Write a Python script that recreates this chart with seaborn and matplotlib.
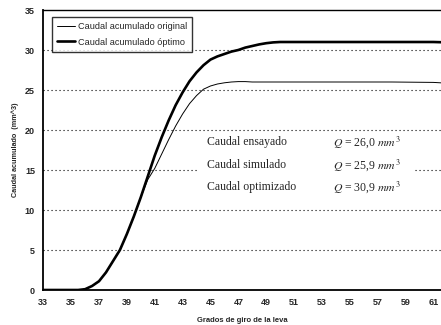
import numpy as np
import pandas as pd
import matplotlib
matplotlib.use("Agg")
import matplotlib.pyplot as plt
import seaborn as sns
from matplotlib.patches import Rectangle
from matplotlib.lines import Line2D

# ---- data ----
grados = [33, 34, 35, 35.5, 36, 36.5, 37, 37.5, 38, 38.5, 39, 39.5, 40, 40.5, 41, 41.5,
          42, 42.5, 43, 43.5, 44, 44.5, 45, 45.5, 46, 46.5, 47, 47.5, 48, 48.5, 49,
          49.5, 50, 52, 55, 58, 61, 62]
caudal_optimo = [0, 0, 0, 0, 0.1, 0.5, 1.1, 2.2, 3.6, 5.0, 7.0, 9.2, 11.6, 14.2, 16.8, 19.1,
                 21.2, 23.1, 24.7, 26.1, 27.2, 28.1, 28.8, 29.2, 29.5, 29.8, 30.0, 30.3, 30.5, 30.7, 30.85,
                 30.95, 31.0, 31.0, 31.0, 31.0, 31.0, 30.95]
caudal_original = [0, 0, 0, 0, 0.1, 0.5, 1.1, 2.2, 3.6, 5.0, 7.0, 9.2, 11.6, 13.8, 15.2, 17.0,
                   18.8, 20.5, 22.0, 23.3, 24.3, 25.1, 25.5, 25.75, 25.9, 26.0, 26.05, 26.05, 26.0, 26.0, 26.0,
                   26.0, 26.0, 26.0, 26.0, 26.0, 25.95, 25.85]
serie_labels = ["Caudal acumulado original", "Caudal acumulado óptimo"]
x_ticks = list(range(33, 62, 2))
y_ticks = list(range(0, 36, 5))
tabla_labels = ["Caudal ensayado", "Caudal simulado", "Caudal optimizado"]
tabla_valores = ["26,0", "25,9", "30,9"]
tabla_y = [18.5, 15.6, 12.9]

df = pd.DataFrame({
    "grados": grados * 2,
    "caudal": caudal_original + caudal_optimo,
    "serie": [serie_labels[0]] * len(grados) + [serie_labels[1]] * len(grados),
})

sns.set_style("white")
plt.rcParams["font.family"] = ["Liberation Sans", "DejaVu Sans"]
plt.rcParams["mathtext.fontset"] = "stix"

fig = plt.figure(figsize=(4.41, 3.25), dpi=100)
ax = fig.add_axes([43.3 / 441, 1 - 290 / 325, (441 - 43.3) / 441, 280 / 325])

sns.lineplot(data=df, x="grados", y="caudal", hue="serie", size="serie",
             palette={serie_labels[0]: "black", serie_labels[1]: "black"},
             sizes={serie_labels[0]: 0.7, serie_labels[1]: 1.9},
             ax=ax, legend=False, zorder=3)

ax.set_xlim(33, 61.55)
ax.set_ylim(0, 35)
ax.set_xticks(x_ticks)
ax.set_yticks(y_ticks)
ax.set_xticklabels([str(t) for t in x_ticks], fontsize=6.5, fontweight="bold")
ax.set_yticklabels([str(t) for t in y_ticks], fontsize=6.5, fontweight="bold")
ax.tick_params(axis="both", direction="out", length=3, width=0.8, pad=3, color="black")
ax.set_axisbelow(True)
for yv in y_ticks[1:-1]:
    ax.axhline(yv, color="black", lw=0.8, ls=(0, (1, 2.6)), zorder=0.5)

for s in ["left", "bottom", "top"]:
    ax.spines[s].set_visible(True)
    ax.spines[s].set_color("black")
ax.spines["left"].set_linewidth(1.3)
ax.spines["bottom"].set_linewidth(1.3)
ax.spines["top"].set_linewidth(1.0)
ax.spines["right"].set_visible(False)

ax.set_xlabel("Grados de giro de la leva", fontsize=5.5, fontweight="bold", labelpad=7)
ax.set_ylabel("Caudal acumulado  (mm^3)", fontsize=5.2, fontweight="bold", labelpad=4)

# white panel behind the text table
ax.add_patch(Rectangle((44.05, 12.0), 15.5, 6.2, facecolor="white", edgecolor="none", zorder=1))
for lab, val, yv in zip(tabla_labels, tabla_valores, tabla_y):
    ax.text(44.73, yv, lab, fontsize=8.5, family="Liberation Serif", va="center", ha="left", zorder=4)
    ax.text(53.8, yv, r"$Q$ = " + val + r" $mm^3$", fontsize=8.5, family="Liberation Serif",
            va="center", ha="left", zorder=4)

handles = [Line2D([], [], color="black", lw=0.7), Line2D([], [], color="black", lw=1.9)]
leg = ax.legend(handles, serie_labels, loc="upper left", bbox_to_anchor=(0.021, 0.976),
                fontsize=6.6, frameon=True, fancybox=False, edgecolor="black",
                handlelength=2.0, handletextpad=0.3, labelspacing=0.75, borderpad=0.55,
                borderaxespad=0)
leg.get_frame().set_linewidth(1.0)
leg.set_zorder(5)

fig.savefig("out.png", dpi=100)
